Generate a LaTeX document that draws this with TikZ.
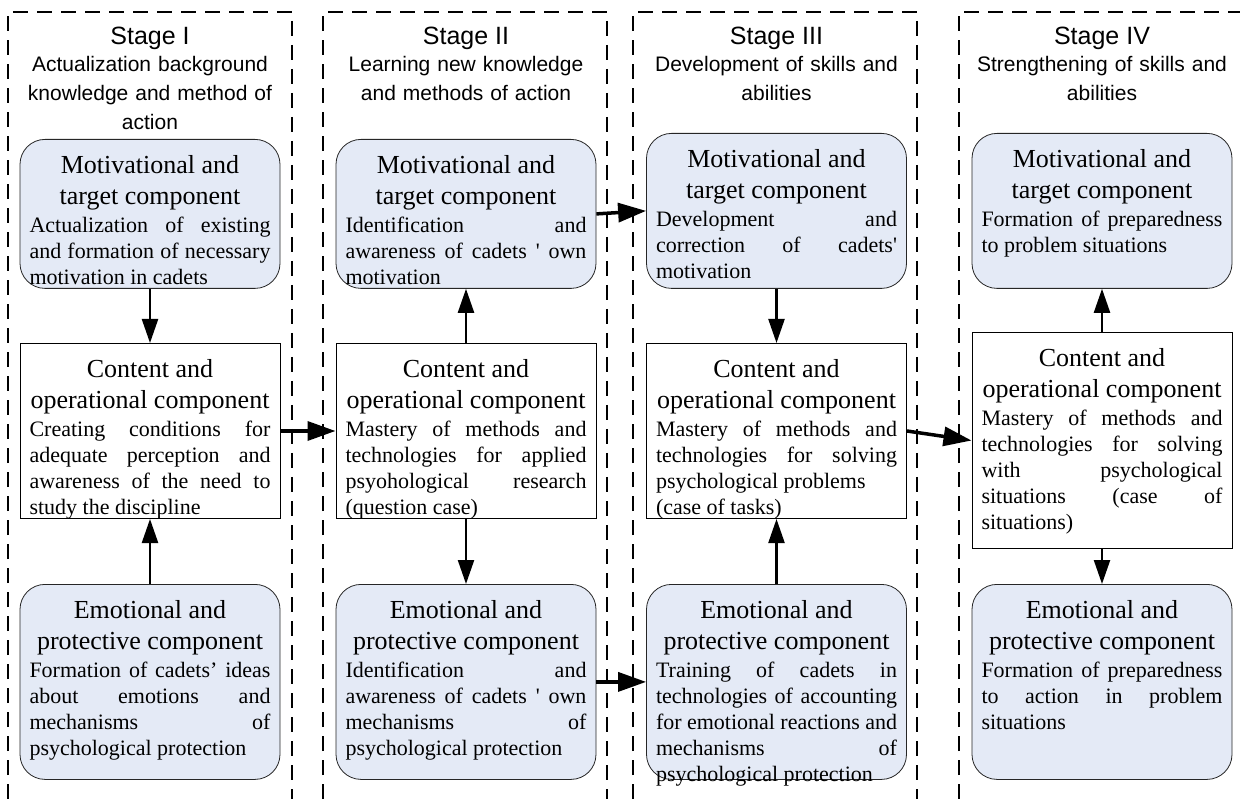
\documentclass[tikz,border=0pt]{standalone}
\usepackage{fontspec}
\setmainfont{Liberation Serif}
\newfontfamily\headfont{Liberation Sans}
\usetikzlibrary{arrows.meta,positioning}

\definecolor{compblue}{RGB}{228,234,246}

% box text: height, title, body
\newcommand{\comptext}[3]{\parbox[t][#1][t]{241pt}{\hyphenpenalty=10000\exhyphenpenalty=10000\tolerance=10000
  {\centering\fontsize{26}{31}\selectfont #2\par}\vspace{2pt}
  \fontsize{22}{26}\selectfont #3}}

\tikzset{
  mot/.style={draw=black!85, fill=compblue, rounded corners=25pt, line width=0.8pt,
    inner xsep=9.5pt, inner ysep=16pt, anchor=north},
  cont/.style={draw, fill=white, line width=1pt, inner xsep=9.5pt, inner ysep=16pt, anchor=north},
  stageframe/.style={dash pattern=on 15pt off 9pt, line width=1.2pt},
  stagetitle/.style={font=\headfont\fontsize{25}{30}\selectfont, inner sep=0pt},
  stagedesc/.style={font=\headfont\fontsize{21}{29}\selectfont, align=center, text width=290pt, inner sep=0pt},
  varr/.style={line width=2.3pt, -{Triangle[length=24pt,width=16pt]}},
  harr/.style={line width=3.5pt, -{Triangle[length=28pt,width=19pt]}}
}

\begin{document}
\begin{tikzpicture}[x=1pt,y=-1pt]
  \useasboundingbox (0,0) rectangle (1240,799);

  % stage frames
  \foreach \l/\r in {8/292,323/607,633/917,959/1270}
    \draw[stageframe] (\l,799) |- (\r,12) -- (\r,799);

  % stage headers
  \node[stagetitle] (t1) at (150,38) {Stage I};
  \node[stagedesc, below=7pt of t1] (d1) {Actualization background\\ knowledge and method of\\ action};
  \node[stagetitle] (t2) at (466,38) {Stage II};
  \node[stagedesc, below=7pt of t2] (d2) {Learning new knowledge\\ and methods of action};
  \node[stagetitle] (t3) at (776.5,38) {Stage III};
  \node[stagedesc, below=7pt of t3] (d3) {Development of skills and\\ abilities};
  \node[stagetitle] (t4) at (1102,38) {Stage IV};
  \node[stagedesc, below=7pt of t4] (d4) {Strengthening of skills and\\ abilities};

  % stage I
  \node[mot] (m1) at (150,139) {\comptext{117pt}{Motivational and\\ target component}
    {Actualization of existing\linebreak and formation of necessary\linebreak motivation in cadets}};
  \node[cont] (c1) at (150,343) {\comptext{143pt}{Content and\\ operational component}
    {Creating conditions for\linebreak adequate perception and\linebreak awareness of the need to\linebreak study the discipline}};
  \node[mot] (e1) at (150,584) {\comptext{163pt}{Emotional and\\ protective component}
    {Formation of cadets’ ideas\linebreak about emotions and\linebreak mechanisms of\linebreak psychological protection}};

  % stage II
  \node[mot] (m2) at (466,139) {\comptext{117pt}{Motivational and\\ target component}
    {Identification and\linebreak awareness of cadets \textquotesingle{} own\linebreak motivation}};
  \node[cont] (c2) at (466,343) {\comptext{143pt}{Content and\\ operational component}
    {Mastery of methods and\linebreak technologies for applied\linebreak psyohological research\linebreak (question case)}};
  \node[mot] (e2) at (466,584) {\comptext{163pt}{Emotional and\\ protective component}
    {Identification and\linebreak awareness of cadets \textquotesingle{} own\linebreak mechanisms of\linebreak psychological protection}};

  % stage III
  \node[mot] (m3) at (776.5,133) {\comptext{123pt}{Motivational and\\ target component}
    {Development and\linebreak correction of cadets\textquotesingle\linebreak motivation}};
  \node[cont] (c3) at (776.5,343) {\comptext{143pt}{Content and\\ operational component}
    {Mastery of methods and\linebreak technologies for solving\linebreak psychological problems\newline (case of tasks)}};
  \node[mot] (e3) at (776.5,584) {\comptext{163pt}{Emotional and\\ protective component}
    {Training of cadets in\linebreak technologies of accounting\linebreak for emotional reactions and\linebreak mechanisms of\linebreak psychological protection}};

  % stage IV
  \node[mot] (m4) at (1102,133) {\comptext{123pt}{Motivational and\\ target component}
    {Formation of preparedness\linebreak to problem situations}};
  \node[cont] (c4) at (1102,332) {\comptext{184pt}{Content and\\ operational component}
    {Mastery of methods and\linebreak technologies for solving\linebreak with psychological\linebreak situations (case of\linebreak situations)}};
  \node[mot] (e4) at (1102,584) {\comptext{163pt}{Emotional and\\ protective component}
    {Formation of preparedness\linebreak to action in problem\linebreak situations}};

  % arrows inside stages
  \draw[varr] (m1) -- (c1);
  \draw[varr] (e1) -- (c1);
  \draw[varr] (c2) -- (m2);
  \draw[varr] (c2) -- (e2);
  \draw[varr] (m3) -- (c3);
  \draw[varr] (e3) -- (c3);
  \draw[varr] (c4) -- (m4);
  \draw[varr] (c4) -- (e4);

  % arrows between stages
  \draw[harr] (c1.east) -- (c2.west);
  \draw[harr] (m2.east) -- (m3.west);
  \draw[harr] (e2.east) -- (e3.west);
  \draw[harr] (c3.east) -- (c4.west);
\end{tikzpicture}
\end{document}
